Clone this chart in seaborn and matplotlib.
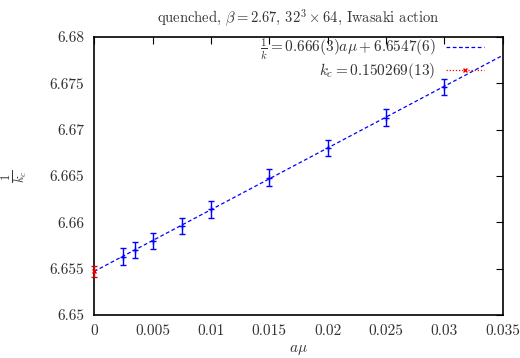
import matplotlib
matplotlib.use("Agg")
import matplotlib.pyplot as plt
from matplotlib.lines import Line2D
import seaborn as sns
import numpy as np
import pandas as pd

amu = [0.0025, 0.0035, 0.005, 0.0075, 0.01, 0.015, 0.02, 0.025, 0.03]
inv_k = [6.6563, 6.6570, 6.6580, 6.6596, 6.6614, 6.6648, 6.6680, 6.6713, 6.6746]
inv_k_err = [0.0009, 0.0009, 0.0009, 0.0009, 0.0009, 0.0009, 0.0009, 0.0009, 0.0009]
fit_slope = 0.666
fit_intercept = 6.6547
kc_x = [0.0]
kc_y = [6.6547]
kc_err = [0.0006]
fit_x = [0.0, 0.035]

sns.set_theme(style="white")
plt.rcParams['font.family'] = ['cmr10', 'DejaVu Serif']
plt.rcParams['mathtext.fontset'] = 'cm'
plt.rcParams['axes.formatter.use_mathtext'] = True
plt.rcParams['axes.unicode_minus'] = False

fig = plt.figure(figsize=(5.2, 3.58), dpi=100)
ax = fig.add_axes([0.181, 0.12, 0.786, 0.777])

fit_df = pd.DataFrame({"x": fit_x, "y": [fit_intercept + fit_slope * v for v in fit_x]})

sns.lineplot(data=fit_df, x="x", y="y", ax=ax, color="#0000ff", lw=0.9,
             linestyle=(0, (3, 2)), legend=False)
ax.errorbar(amu, inv_k, yerr=inv_k_err, fmt="+", color="#0000ff", ms=4,
            capsize=2.5, elinewidth=1.0, capthick=1.0, mew=1.0)
eb = ax.errorbar(kc_x, kc_y, yerr=kc_err, fmt="x", color="#dd0000", ms=3.5,
                 capsize=2.5, elinewidth=1.0, capthick=1.0, mew=1.0, ls="none",
                 zorder=5)
for art in eb.lines[0:1] + tuple(eb.lines[1]) + tuple(eb.lines[2]):
    art.set_clip_on(False)

ax.set_xlim(0, 0.035)
ax.set_ylim(6.65, 6.68)
ax.set_xticks([0, 0.005, 0.01, 0.015, 0.02, 0.025, 0.03, 0.035])
ax.set_xticklabels(["0", "0.005", "0.01", "0.015", "0.02", "0.025", "0.03", "0.035"])
ax.set_yticks([6.65, 6.655, 6.66, 6.665, 6.67, 6.675, 6.68])
ax.set_yticklabels(["6.65", "6.655", "6.66", "6.665", "6.67", "6.675", "6.68"])
ax.tick_params(direction="in", length=5, width=0.8, top=True, right=True,
               labelsize=11, colors="black", pad=7)
ax.tick_params(axis="x", labelcolor="#333333")
ax.tick_params(axis="y", labelcolor="#333333")
for s in ax.spines.values():
    s.set_color("black")
    s.set_linewidth(1.2)

ax.set_xlabel(r"$a\mu$", fontsize=11, color="#333333", labelpad=3)
ax.set_ylabel(r"$\frac{1}{k_c}$", fontsize=13, color="#333333", labelpad=14)
ax.set_title(r"quenched, $\beta = 2.67$, $32^3 \times 64$, Iwasaki action",
             fontsize=10.5, color="#333333", pad=10)

handles = [
    Line2D([], [], color="#0000ff", lw=0.9, ls=(0, (3, 2))),
    Line2D([], [], color="#ff0000", lw=0.9, ls=(0, (1, 1.5)), marker="x", ms=3.5),
]
labels = [r"$\frac{1}{k} = 0.666(3)a\mu + 6.6547(6)$", r"$k_c = 0.150269(13)$"]
leg = ax.legend(handles, labels, loc="upper right", frameon=False, markerfirst=False,
                fontsize=11, handlelength=2.5, borderaxespad=0.0, labelspacing=-0.08,
                handletextpad=0.7, borderpad=0.0, numpoints=1,
                bbox_to_anchor=(0.955, 1.0))
for t in leg.get_texts():
    t.set_color("#333333")

fig.savefig("out.png", dpi=100)
